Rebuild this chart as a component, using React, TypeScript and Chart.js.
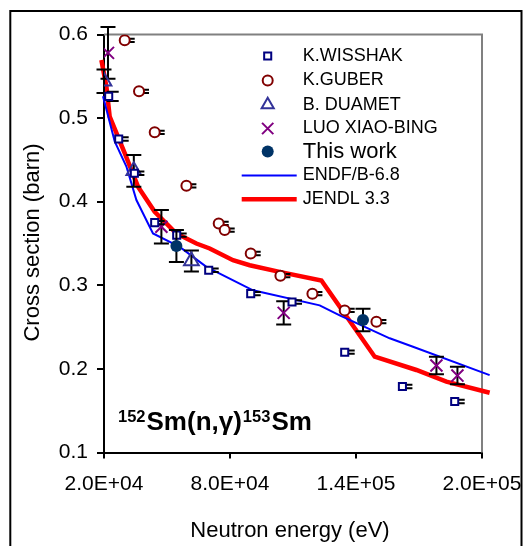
import React, { useEffect, useRef } from 'react';
import { Chart, registerables } from 'chart.js';

Chart.register(...registerables);

// ---- data ----
const xTicks = [20000, 80000, 140000, 200000];
const yTicks = [0.1, 0.2, 0.3, 0.4, 0.5, 0.6];

const wisshakE = [22240, 27000, 34470, 44140, 54620, 69860, 89860, 109530, 134620, 162100, 187000];
const wisshakS = [0.526, 0.475, 0.434, 0.375, 0.36, 0.318, 0.29, 0.28, 0.22, 0.179, 0.161];
const wisshakErr = [0.0055, 0.002, 0.002, 0.002, 0.002, 0.002, 0.002, 0.002, 0.002, 0.002, 0.002];

const guberE = [29860, 36670, 44140, 59240, 74620, 77480, 89860, 104000, 119240, 134620, 149720];
const guberS = [0.593, 0.532, 0.483, 0.419, 0.374, 0.366, 0.338, 0.3115, 0.29, 0.27, 0.2565];
const guberErr = [0.002, 0.002, 0.002, 0.002, 0.002, 0.002, 0.002, 0.002, 0.002, 0.002, 0.002];

const duametE = [20000, 34200, 61620];
const duametS = [0.544, 0.437, 0.329];
const duametErr = [0.014, 0.019, 0.0125];

const luoE = [21900, 47330, 105570, 178300, 188300];
const luoS = [0.578, 0.37, 0.267, 0.204, 0.192];
const luoErr = [0.031, 0.02, 0.014, 0.0105, 0.0105];

const thisWorkE = [54480, 143330];
const thisWorkS = [0.347, 0.2585];
const thisWorkErr = [0.019, 0.0135];

const endfE = [16380, 19520, 25100, 30670, 35430, 43330, 56050, 68760, 90950, 122700, 132240, 156050, 167140, 203640];
const endfS = [0.579, 0.526, 0.472, 0.442, 0.402, 0.362, 0.346, 0.322, 0.294, 0.276, 0.264, 0.2366, 0.2265, 0.1925];

const jendlE = [16050, 18760, 21140, 22710, 29860, 36190, 44140, 54480, 64000, 70330, 81430, 89380, 103570, 123530, 148900, 168760, 183050, 203640];
const jendlS = [0.609, 0.5695, 0.5376, 0.5017, 0.458, 0.418, 0.388, 0.362, 0.35, 0.344, 0.33, 0.324, 0.316, 0.3057, 0.2146, 0.1987, 0.1847, 0.1715];

const seriesLabels = ['K.WISSHAK', 'K.GUBER', 'B. DUAMET', 'LUO XIAO-BING', 'This work', 'ENDF/B-6.8', 'JENDL 3.3'];

const FONT = "'Liberation Sans', Arial, sans-serif";

const pts = (xs: number[], ys: number[]) => xs.map((x, i) => ({ x, y: ys[i] }));

const fmtE = (v: number) => {
  const exp = Math.floor(Math.log10(v) + 1e-9);
  const m = v / Math.pow(10, exp);
  return m.toFixed(1) + 'E+' + String(exp).padStart(2, '0');
};

function drawMarker(ctx: CanvasRenderingContext2D, style: string, x: number, y: number, r: number,
  fill: string, stroke: string, lw: number) {
  ctx.save();
  ctx.lineWidth = lw;
  ctx.strokeStyle = stroke;
  ctx.fillStyle = fill;
  ctx.beginPath();
  if (style === 'rect') {
    const s = Math.SQRT1_2 * r;
    ctx.rect(x - s, y - s, 2 * s, 2 * s);
    ctx.fill(); ctx.stroke();
  } else if (style === 'circle') {
    ctx.arc(x, y, r, 0, Math.PI * 2);
    ctx.fill(); if (lw > 0) ctx.stroke();
  } else if (style === 'triangle') {
    let a = 0;
    ctx.moveTo(x + Math.sin(a) * r, y - Math.cos(a) * r);
    a += (2 * Math.PI) / 3;
    ctx.lineTo(x + Math.sin(a) * r, y - Math.cos(a) * r);
    a += (2 * Math.PI) / 3;
    ctx.lineTo(x + Math.sin(a) * r, y - Math.cos(a) * r);
    ctx.closePath();
    ctx.fill(); ctx.stroke();
  } else if (style === 'crossRot') {
    const o = Math.cos(Math.PI / 4) * r;
    ctx.moveTo(x - o, y - o); ctx.lineTo(x + o, y + o);
    ctx.moveTo(x - o, y + o); ctx.lineTo(x + o, y - o);
    ctx.stroke();
  }
  ctx.restore();
}

const errorBarPlugin = {
  id: 'errorBars',
  beforeDatasetDraw(chart: any, args: any) {
    const ds = chart.data.datasets[args.index];
    if (!ds.errors) return;
    const yS = chart.scales.y;
    const ctx = chart.ctx as CanvasRenderingContext2D;
    ctx.save();
    ctx.strokeStyle = '#000';
    ctx.lineWidth = 2;
    args.meta.data.forEach((el: any, i: number) => {
      const e = ds.errors[i];
      const v = ds.data[i].y;
      const px = el.x;
      const top = yS.getPixelForValue(v + e);
      const bot = yS.getPixelForValue(v - e);
      const l = ds.capRight ? px - 2 : px - 7.5;
      const r = ds.capRight ? px + 10 : px + 7.5;
      ctx.beginPath();
      ctx.moveTo(px, top); ctx.lineTo(px, bot);
      ctx.moveTo(l, top); ctx.lineTo(r, top);
      ctx.moveTo(l, bot); ctx.lineTo(r, bot);
      ctx.stroke();
    });
    ctx.restore();
  },
};

const decorPlugin = {
  id: 'decor',
  beforeDatasetsDraw(chart: any) {
    const ctx = chart.ctx as CanvasRenderingContext2D;
    const a = chart.chartArea;
    ctx.save();
    ctx.strokeStyle = '#808080';
    ctx.lineWidth = 2;
    ctx.beginPath();
    ctx.moveTo(a.left, a.top); ctx.lineTo(a.right, a.top); ctx.lineTo(a.right, a.bottom);
    ctx.stroke();
    ctx.restore();
  },
  afterDraw(chart: any) {
    const ctx = chart.ctx as CanvasRenderingContext2D;
    const a = chart.chartArea;
    const W = chart.width, H = chart.height;
    ctx.save();
    // outer frame
    ctx.strokeStyle = '#000';
    ctx.lineWidth = 2;
    ctx.beginPath();
    ctx.moveTo(10.3, H + 5); ctx.lineTo(10.3, 11); ctx.lineTo(W - 1.5, 11); ctx.lineTo(W - 1.5, H + 5);
    ctx.stroke();

    // axis titles
    ctx.fillStyle = '#000';
    ctx.font = `22px ${FONT}`;
    ctx.textAlign = 'center';
    ctx.textBaseline = 'alphabetic';
    ctx.fillText('Neutron energy (eV)', (a.left + a.right) / 2 - 3, H - 9);
    ctx.save();
    ctx.translate(39, (a.top + a.bottom) / 2 - 1);
    ctx.rotate(-Math.PI / 2);
    ctx.fillText('Cross section (barn)', 0, 0);
    ctx.restore();

    // reaction label
    ctx.textAlign = 'left';
    let x = a.left + 14;
    const base = a.bottom - 23;
    const pieces: [string, boolean][] = [['152', true], ['Sm(n,\u03b3)', false], ['153', true], ['Sm', false]];
    pieces.forEach(([t, sup]) => {
      ctx.font = sup ? `bold 16.5px ${FONT}` : `bold 26px ${FONT}`;
      ctx.fillText(t, x, sup ? base - 8 : base);
      x += ctx.measureText(t).width + 1;
    });

    // legend
    const mx = 267.7, tx = 302.7;
    const rows = [56, 80.5, 104.7, 128.5, 151.5, 175.5, 199.3];
    chart.data.datasets.forEach((ds: any, i: number) => {
      const y = rows[i];
      if (ds.showLine) {
        ctx.strokeStyle = ds.borderColor;
        ctx.lineWidth = ds.borderWidth;
        ctx.beginPath();
        ctx.moveTo(241.7, y); ctx.lineTo(296.7, y);
        ctx.stroke();
      } else {
        drawMarker(ctx, ds.pointStyle, mx, y, ds.legendRadius ?? ds.pointRadius, ds.pointBackgroundColor,
          ds.pointBorderColor, ds.pointBorderWidth);
      }
      ctx.fillStyle = '#000';
      ctx.font = `${i === 4 ? 22 : 18}px ${FONT}`;
      ctx.textAlign = 'left';
      ctx.textBaseline = 'middle';
      ctx.fillText(seriesLabels[i], tx, y);
    });
    ctx.restore();
  },
};

export default function App() {
  const ref = useRef<HTMLCanvasElement>(null);
  useEffect(() => {
    document.body.style.margin = '0';
    Chart.defaults.font.family = FONT;
    const chart = new Chart(ref.current as HTMLCanvasElement, {
      type: 'scatter',
      data: {
        datasets: [
          {
            label: seriesLabels[0], data: pts(wisshakE, wisshakS), pointStyle: 'rect', pointRadius: 5,
            pointBorderWidth: 2, pointBorderColor: '#000080', pointBackgroundColor: '#ffffff',
            errors: wisshakErr, capRight: true, order: 1, legendRadius: 5,
          } as any,
          {
            label: seriesLabels[1], data: pts(guberE, guberS), pointStyle: 'circle', pointRadius: 5,
            pointBorderWidth: 2, pointBorderColor: '#800000', pointBackgroundColor: '#ffffff',
            errors: guberErr, capRight: true, order: 2,
          } as any,
          {
            label: seriesLabels[2], data: pts(duametE, duametS), pointStyle: 'triangle', pointRadius: 8.5,
            pointBorderWidth: 2, pointBorderColor: '#333399', pointBackgroundColor: 'rgba(0,0,0,0)',
            errors: duametErr, order: 3, legendRadius: 7,
          } as any,
          {
            label: seriesLabels[3], data: pts(luoE, luoS), pointStyle: 'crossRot', pointRadius: 8.5,
            pointBorderWidth: 2, pointBorderColor: '#800080', pointBackgroundColor: '#800080',
            errors: luoErr, order: 4, legendRadius: 8,
          } as any,
          {
            label: seriesLabels[4], data: pts(thisWorkE, thisWorkS), pointStyle: 'circle', pointRadius: 6,
            pointBorderWidth: 0, pointBorderColor: '#003366', pointBackgroundColor: '#003366',
            errors: thisWorkErr, order: 0,
          } as any,
          {
            label: seriesLabels[5], data: pts(endfE, endfS), showLine: true, pointRadius: 0,
            borderColor: '#0000ff', borderWidth: 2, clip: false, order: 10,
          } as any,
          {
            label: seriesLabels[6], data: pts(jendlE, jendlS), showLine: true, pointRadius: 0,
            borderColor: '#ff0000', borderWidth: 4.5, clip: false, order: 11,
          } as any,
        ],
      },
      options: {
        responsive: false,
        animation: false,
        events: [],
        layout: { padding: { left: 0, right: 41, top: 34.5, bottom: 0 } },
        plugins: { legend: { display: false }, tooltip: { enabled: false } },
        scales: {
          x: {
            type: 'linear', min: 20000, max: 200000,
            afterFit: (s: any) => { s.height = 93.5; s.paddingLeft = 0; s.paddingRight = 0; },
            afterBuildTicks: (s: any) => { s.ticks = xTicks.map((v) => ({ value: v })); },
            grid: { drawOnChartArea: false, drawTicks: true, tickLength: 6, color: '#000', lineWidth: 2 },
            border: { display: true, color: '#000', width: 2 },
            ticks: {
              color: '#000', font: { size: 21, family: FONT }, padding: 13, maxRotation: 0, autoSkip: false,
              callback: (v: any) => fmtE(Number(v)),
            },
          },
          y: {
            type: 'linear', min: 0.1, max: 0.6,
            afterFit: (s: any) => { s.width = 104; s.paddingTop = 0; s.paddingBottom = 0; },
            afterBuildTicks: (s: any) => { s.ticks = yTicks.map((v) => ({ value: v })); },
            grid: { drawOnChartArea: false, drawTicks: true, tickLength: 7, color: '#000', lineWidth: 2 },
            border: { display: true, color: '#000', width: 2 },
            ticks: {
              color: '#000', font: { size: 21, family: FONT }, padding: 9, autoSkip: false,
              callback: (v: any) => Number(v).toFixed(1),
            },
          },
        },
      } as any,
      plugins: [errorBarPlugin, decorPlugin],
    });
    return () => chart.destroy();
  }, []);
  return (
    <div style={{ width: 523, height: 546 }}>
      <canvas ref={ref} width={523} height={546} style={{ display: 'block' }} />
    </div>
  );
}
